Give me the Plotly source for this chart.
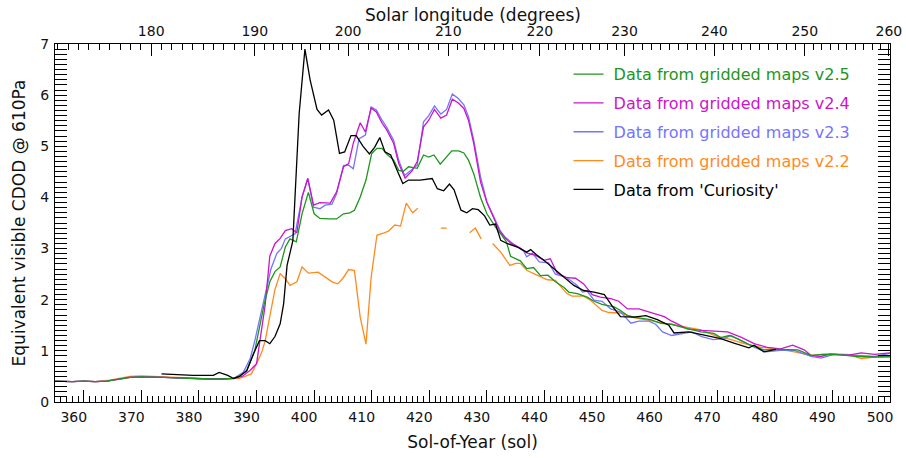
import numpy as np
import plotly.graph_objects as go

# ---------------- data ----------------
green_sol = [355, 358, 360, 362, 364, 366, 368, 370, 372, 374, 376, 378, 380, 382, 384, 386, 387, 388.3, 389.7, 390.5,
             391.3, 392.3, 393.2, 394.1, 395, 395.8, 396.9, 397.9, 399, 400, 401, 402.5, 403.9, 405.1, 406.2, 407, 408, 409, 410, 410.9,
             411.8, 412.5, 413.8, 414.7, 415.5, 416.4, 417.9, 419, 419.9, 420.8, 421.9, 423.9, 425.1, 426, 426.8, 427.7, 428.9, 430, 431.5, 432.6,
             433.4, 434.1, 435.8, 436.9, 438.1, 439.3, 440.6, 441.9, 443.4, 444.2, 445.7, 447.4, 448.6, 450, 452.1, 453.2, 454.4, 456.1, 458.4, 460.2,
             462.1, 464.3, 467.2, 469.4, 470.6, 472.1, 473.5, 475.8, 478.1, 480.5, 484, 486.3, 488.3, 491.5, 494.4, 497.3, 500]
green_val = [0.41, 0.40, 0.41, 0.40, 0.41, 0.44, 0.48, 0.49, 0.49, 0.48, 0.47, 0.46, 0.46, 0.45, 0.45, 0.46, 0.50, 0.62, 1.01, 1.45,
             1.90, 2.35, 2.55, 2.64, 3.03, 3.19, 3.13, 3.68, 4.10, 3.68, 3.59, 3.58, 3.58, 3.68, 3.70, 3.75, 4.01, 4.34, 4.86, 4.96,
             4.96, 4.86, 4.73, 4.53, 4.51, 4.60, 4.57, 4.83, 4.79, 4.83, 4.65, 4.91, 4.91, 4.87, 4.73, 4.47, 4.00, 3.68, 3.42, 3.26,
             3.13, 2.85, 2.76, 2.61, 2.63, 2.47, 2.48, 2.35, 2.24, 2.15, 2.12, 2.05, 1.97, 1.91, 1.86, 1.79, 1.69, 1.65, 1.61, 1.54,
             1.52, 1.45, 1.37, 1.34, 1.26, 1.30, 1.24, 1.11, 1.02, 1.03, 1.02, 0.91, 0.93, 0.92, 0.89, 0.88, 0.89]

magenta_sol = [355, 358, 360, 362, 364, 366, 368, 370, 372, 374, 376, 378, 380, 382, 384, 386, 387.5, 388.9, 390, 390.6,
               391.5, 392.3, 393.2, 394.1, 395, 396.1, 397, 397.9, 398.9, 399.9, 401, 402.8, 403.9, 405.1, 406, 406.8, 408, 408.9, 409.9, 410.8,
               411.8, 412.6, 413.8, 414.7, 415.8, 417, 417.9, 419, 419.9, 420.9, 422, 423, 424, 425, 426, 426.8, 427.7, 428.9, 430, 431.5,
               432.3, 433.2, 434.1, 435.8, 437, 438.4, 439.9, 441, 442.2, 443.9, 445.4, 446.8, 448.3, 449.7, 451.5, 452.9, 454.4, 456.4, 457.9, 459.3,
               460.8, 462.1, 464.8, 467.2, 469.4, 471.8, 474.1, 476.4, 478.7, 481, 483.1, 485.1, 486.3, 488, 489.7, 492.6, 495, 497.3, 500]
magenta_val = [0.41, 0.40, 0.41, 0.40, 0.41, 0.44, 0.48, 0.49, 0.49, 0.48, 0.47, 0.46, 0.46, 0.45, 0.45, 0.46, 0.50, 0.62, 0.75, 1.20,
               1.90, 2.85, 3.10, 3.20, 3.35, 3.39, 3.31, 4.01, 4.37, 3.85, 3.90, 3.89, 4.11, 4.60, 4.66, 5.06, 5.46, 5.28, 5.75, 5.67,
               5.45, 5.32, 5.06, 4.66, 4.38, 4.52, 4.70, 5.38, 5.51, 5.72, 5.55, 5.61, 5.92, 5.85, 5.74, 5.51, 5.06, 4.30, 3.90, 3.52,
               3.33, 3.20, 3.11, 3.01, 2.91, 2.87, 2.77, 2.80, 2.52, 2.43, 2.42, 2.31, 2.10, 2.05, 2.02, 1.97, 1.82, 1.82, 1.77, 1.73,
               1.67, 1.58, 1.43, 1.40, 1.39, 1.37, 1.27, 1.14, 1.07, 1.04, 1.11, 1.02, 0.91, 0.89, 0.94, 0.91, 0.96, 0.93, 0.96]

blue_sol = [355, 358, 360, 362, 364, 366, 368, 370, 372, 374, 376, 378, 380, 382, 384, 386, 387.7, 388.9, 389.7, 390.5,
            391.5, 392.5, 393.5, 394.3, 395, 396.7, 397.9, 398.9, 399.9, 401, 401.9, 403.1, 403.9, 405.1, 406, 406.8, 407.8, 408.9, 409.9, 410.8,
            411.8, 412.6, 413.8, 414.7, 415.7, 417, 417.9, 419, 419.9, 420.9, 422, 423, 424, 425, 426, 426.8, 427.7, 428.9, 430, 431.5,
            432.3, 433.2, 434.7, 436.4, 436.9, 437.9, 439.1, 440.7, 441.9, 443.9, 445.7, 446.6, 447.4, 448.6, 450, 451.5, 453.2, 453.8, 455, 456.4,
            458.1, 459.3, 460.5, 462.1, 463.9, 465.6, 467.3, 469.3, 471.2, 472.4, 474.1, 476.4, 478.4, 481, 483.4, 486.3, 488, 490.3, 494.4, 497.3, 500]
blue_val = [0.41, 0.40, 0.41, 0.40, 0.41, 0.44, 0.48, 0.49, 0.49, 0.48, 0.47, 0.46, 0.46, 0.45, 0.45, 0.46, 0.58, 0.85, 1.20, 1.60,
            2.10, 2.60, 2.90, 3.00, 3.19, 3.29, 4.00, 4.37, 3.81, 3.78, 3.85, 3.87, 4.07, 4.62, 4.63, 4.56, 5.15, 5.22, 5.77, 5.71,
            5.51, 5.37, 5.12, 4.72, 4.43, 4.55, 4.63, 5.48, 5.60, 5.79, 5.63, 5.72, 6.02, 5.94, 5.81, 5.58, 5.13, 4.40, 3.91, 3.55,
            3.35, 3.22, 3.08, 2.95, 2.84, 2.91, 2.74, 2.72, 2.50, 2.43, 2.28, 2.15, 2.17, 1.99, 1.97, 1.82, 1.76, 1.69, 1.54, 1.58,
            1.58, 1.52, 1.37, 1.30, 1.34, 1.37, 1.28, 1.22, 1.24, 1.30, 1.20, 1.07, 0.98, 1.01, 1.01, 0.89, 0.86, 0.93, 0.91, 0.89, 0.95]

orange_sol = [355, 358, 360, 362, 364, 366, 368, 370, 372, 374, 376, 378, 380, 382, 384, 386, 387, 388, 389.1, 390,
              390.9, 391.5, 392.3, 393.2, 394.1, 395, 395.8, 397, 397.9, 399, 400.7, 401.9, 403.1, 404.1, 405, 406, 407, 408, 409, 409.9,
              410.9, 412, 412.9, 414, 415, 416, 417.1, 418, 420, 422, 423, 425, 427, 428, 429, 430, 431, 432.4, 434, 435,
              435.8, 437, 438.7, 440.5, 441.9, 443.9, 444.8, 446.8, 448, 450, 451.2, 453.2, 455.5, 459, 462.5, 464.8, 467.2, 470, 471.8, 474.7,
              477.6, 480.5, 483.4, 486.3, 489.2, 492.6, 495, 497.3, 500]
orange_val = [0.41, 0.40, 0.41, 0.40, 0.42, 0.46, 0.50, 0.51, 0.50, 0.48, 0.47, 0.46, 0.45, 0.45, 0.45, 0.45, 0.46, 0.50, 0.55, 0.75,
              0.97, 1.20, 1.70, 2.20, 2.51, 2.41, 2.28, 2.35, 2.64, 2.52, 2.54, 2.44, 2.35, 2.31, 2.42, 2.59, 2.57, 1.66, 1.13, 2.44,
              3.26, 3.30, 3.34, 3.46, 3.44, 3.89, 3.70, 3.79, None, 3.40, 3.40, None, 3.31, 3.40, 3.19, None, 3.10, 2.93, 2.67, 2.71,
              2.71, 2.57, 2.48, 2.39, 2.38, 2.12, 2.07, 2.07, 1.99, 1.79, 1.75, 1.74, 1.65, 1.58, 1.52, 1.46, 1.41, 1.28, 1.24, 1.14,
              1.07, 1.04, 0.98, 0.91, 0.94, 0.93, 0.85, 0.88, 0.88]

curiosity_sol = [373.5, 376, 379, 382.5, 383.5, 385, 386, 387, 388.3, 389.5,
                 390.5, 391.5, 392.3, 393.2, 394.1, 394.7, 395.3, 396.3, 397.4, 398.4,
                 399.3, 400.5, 401.3, 402.5, 403.4, 404.4, 405.3, 406.4, 407.3, 408.5,
                 409.6, 410.5, 411.4, 412.3, 413.3, 414.4, 415.4, 416.4, 418.4, 420.5,
                 421.4, 422.5, 423.5, 424.3, 425.5, 426.5, 427.5, 428.5, 429.6, 430.5,
                 431.5, 432.4, 433.5, 435.3, 436.9, 437.6, 438.6, 439.9, 441.6, 443.4,
                 445.1, 446.8, 448.6, 450.4, 451.8, 453.2, 455.5, 457.6, 459.6, 461.6,
                 462.5, 465.1, 468.3, 470.6, 472.9, 475.5, 476.4, 478.1, 480.2]
curiosity_val = [0.55, 0.53, 0.52, 0.52, 0.58, 0.52, 0.46, 0.50, 0.61, 0.95,
                 1.20, 1.20, 1.14, 1.28, 1.53, 1.92, 2.67, 3.15, 5.64, 6.90,
                 6.30, 5.72, 5.61, 5.71, 5.51, 4.86, 4.89, 5.21, 5.21, 5.00,
                 4.85, 4.98, 5.17, 4.89, 4.83, 4.53, 4.27, 4.34, 4.34, 4.37,
                 4.17, 4.13, 4.26, 4.15, 3.75, 3.70, 3.78, 3.76, 3.64, 3.46,
                 3.48, 3.16, 3.10, 3.03, 2.93, 2.98, 2.88, 2.77, 2.61, 2.43,
                 2.28, 2.18, 2.15, 2.10, 1.87, 1.67, 1.66, 1.69, 1.61, 1.50,
                 1.35, 1.37, 1.30, 1.24, 1.15, 1.06, 1.11, 0.98, 1.03]

# top axis: solar longitude tick labels and the sol at which each label sits
ls_labels = ["180", "190", "200", "210", "220", "230", "240", "250", "260"]
ls_degrees = [180, 190, 200, 210, 220, 230, 240, 250, 260]
ls_sol = [371.7, 389.7, 405.9, 423.3, 439.2, 453.9, 469.5, 485.2, 499.8]

# ---------------- figure ----------------
FONT = "DejaVu Sans"
series = [
    # (x, y, label, color, legend rank)
    (orange_sol, orange_val, "Data from gridded maps v2.2", "#ff8a1c", 4),
    (blue_sol, blue_val, "Data from gridded maps v2.3", "#7474ff", 3),
    (magenta_sol, magenta_val, "Data from gridded maps v2.4", "#cc14cc", 2),
    (green_sol, green_val, "Data from gridded maps v2.5", "#1c961c", 1),
    (curiosity_sol, curiosity_val, "Data from 'Curiosity'", "#000000", 5),
]

fig = go.Figure()
for xs, ys, label, color, rank in series:
    fig.add_trace(go.Scatter(
        x=xs, y=ys, mode="lines", connectgaps=False,
        line=dict(color=color, width=1.3),
        name="&nbsp;<span style='color:%s'>%s</span>" % (color, label),
        legendrank=rank, legendgroup=label, hoverinfo="skip",
    ))

# invisible trace so the top (solar longitude) axis exists
fig.add_trace(go.Scatter(x=curiosity_sol, y=curiosity_val, xaxis="x2", mode="lines",
                         line=dict(width=0), opacity=0, showlegend=False, hoverinfo="skip"))

# minor ticks every degree of solar longitude on the top axis
ls_minor_deg = np.arange(171, 261)
first_step = (ls_sol[1] - ls_sol[0]) / (ls_degrees[1] - ls_degrees[0])
ls_minor_sol = np.where(ls_minor_deg < ls_degrees[0],
                        ls_sol[0] + (ls_minor_deg - ls_degrees[0]) * first_step,
                        np.interp(ls_minor_deg, ls_degrees, ls_sol))

axis_common = dict(showline=True, linecolor="black", linewidth=1, showgrid=False, zeroline=False,
                   automargin=False,
                   ticks="inside", ticklen=12, tickwidth=1, tickcolor="black",
                   tickfont=dict(family=FONT, size=14, color="#111"))

fig.update_layout(
    width=906, height=458,
    margin=dict(l=55, r=16, t=44, b=56),
    paper_bgcolor="white", plot_bgcolor="white",
    font=dict(family=FONT, size=14, color="#111"),
    showlegend=True,
    legend=dict(x=0.615, y=0.963, xanchor="left", yanchor="top", bgcolor="rgba(0,0,0,0)",
                font=dict(family=FONT, size=16), tracegroupgap=5, traceorder="grouped"),
    xaxis=dict(range=[355, 500], tickmode="linear", tick0=360, dtick=10,
               minor=dict(dtick=1, tick0=355, ticks="inside", ticklen=6, tickcolor="black"),
               ticklabelstandoff=2, ticklabelshift=-10,
               title=dict(text="Sol-of-Year (sol)", font=dict(family=FONT, size=17, color="#111"), standoff=12),
               **axis_common),
    xaxis2=dict(range=[355, 500], overlaying="x", side="top", anchor="y",
                tickmode="array", tickvals=ls_sol, ticktext=ls_labels,
                minor=dict(tickmode="array", tickvals=list(ls_minor_sol), ticks="inside", ticklen=6, tickcolor="black"),
                ticklabelstandoff=1,
                **axis_common),
    yaxis=dict(range=[0, 7], tickmode="linear", tick0=0, dtick=1, mirror="allticks",
               minor=dict(dtick=0.1, ticks="inside", ticklen=6, tickcolor="black"),
               ticklabelstandoff=2,
               title=dict(text="Equivalent visible CDOD @ 610Pa", font=dict(family=FONT, size=17, color="#111"), standoff=10),
               **axis_common),
    annotations=[dict(text="Solar longitude (degrees)", xref="paper", yref="paper", x=0.5, y=1.081,
                      xanchor="center", yanchor="middle", showarrow=False,
                      font=dict(family=FONT, size=17, color="#111"))],
)

fig.write_html("out.html", config={"displayModeBar": False},
               post_script="document.body.style.margin='0px';")
